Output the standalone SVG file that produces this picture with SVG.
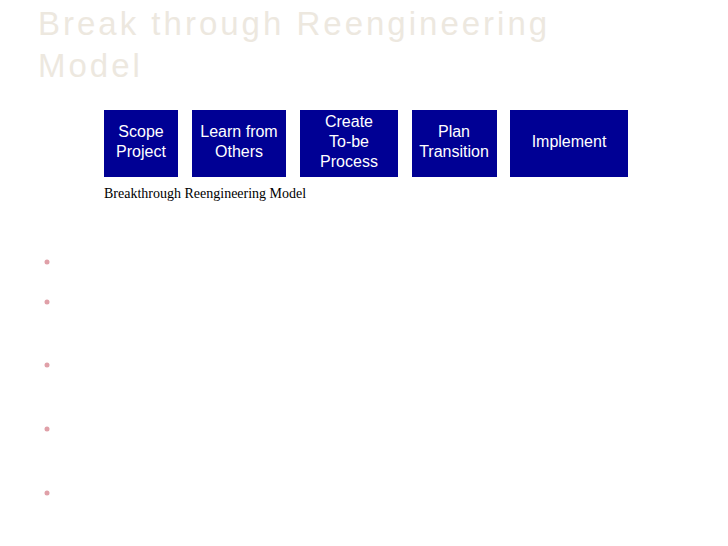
<svg xmlns="http://www.w3.org/2000/svg" width="728" height="546" viewBox="0 0 728 546">
<style>
.t{font-family:"Liberation Sans",Arial,sans-serif;font-size:33px;fill:#ede8df;letter-spacing:3px}
.b{fill:#000094}
.l{font-family:"Liberation Sans",Arial,sans-serif;font-size:16px;fill:#fff;text-anchor:middle}
.d{fill:#e0a0a8}
</style>
<rect width="728" height="546" fill="#fff"/>
<text class="t" x="38" y="35">Break through Reengineering</text>
<text class="t" x="38" y="77">Model</text>
<g id="n1"><rect class="b" x="104" y="110" width="74" height="67"/><text class="l" x="141" y="137">Scope</text><text class="l" x="141" y="157">Project</text></g>
<g id="n2"><rect class="b" x="192" y="110" width="94" height="67"/><text class="l" x="239" y="137">Learn from</text><text class="l" x="239" y="157">Others</text></g>
<g id="n3"><rect class="b" x="300" y="110" width="98" height="67"/><text class="l" x="349" y="127">Create</text><text class="l" x="349" y="147">To-be</text><text class="l" x="349" y="167">Process</text></g>
<g id="n4"><rect class="b" x="412" y="110" width="85" height="67"/><text class="l" x="454" y="137">Plan</text><text class="l" x="454" y="157">Transition</text></g>
<g id="n5"><rect class="b" x="510" y="110" width="118" height="67"/><text class="l" x="569" y="147">Implement</text></g>
<g id="connectors"></g>
<text x="104" y="198" font-family="'Liberation Serif',serif" font-size="14">Breakthrough Reengineering Model</text>
<circle class="d" cx="47" cy="262" r="2.5"/>
<circle class="d" cx="47" cy="302" r="2.5"/>
<circle class="d" cx="47" cy="365" r="2.5"/>
<circle class="d" cx="47" cy="429" r="2.5"/>
<circle class="d" cx="47" cy="493" r="2.5"/>
</svg>
